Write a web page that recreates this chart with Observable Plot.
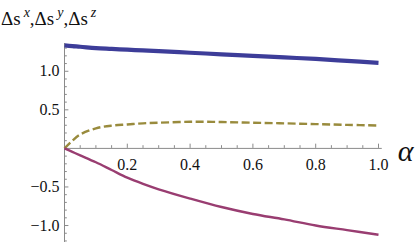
<!DOCTYPE html>
<html>
<head>
<meta charset="utf-8">
<script src="https://cdn.jsdelivr.net/npm/d3@7"></script>
<script src="https://cdn.jsdelivr.net/npm/@observablehq/plot@0.6"></script>
<style>
  html, body { margin: 0; padding: 0; background: #fff; }
  svg { display: block; }
  svg text, svg tspan { font-family: "Liberation Serif", "Times New Roman", serif; }
</style>
</head>
<body>
<div id="chart"></div>
<script>
const alpha = [0, 0.025, 0.05, 0.1, 0.15, 0.2, 0.25, 0.3, 0.4, 0.5, 0.6, 0.7, 0.8, 0.9, 1.0];
const dsX = [1.335, 1.325, 1.318, 1.30, 1.29, 1.28, 1.27, 1.26, 1.24, 1.22, 1.20, 1.18, 1.16, 1.135, 1.11];
const dsY = [0, 0.10, 0.18, 0.26, 0.295, 0.31, 0.325, 0.333, 0.345, 0.342, 0.333, 0.325, 0.315, 0.305, 0.297];
const dsZ = [0, -0.045, -0.09, -0.18, -0.28, -0.38, -0.46, -0.53, -0.65, -0.76, -0.85, -0.92, -1.0, -1.06, -1.12];

const xTicks = [0.2, 0.4, 0.6, 0.8, 1.0];
const xTickLabels = ["0.2", "0.4", "0.6", "0.8", "1.0"];
const yTicks = [-1.0, -0.5, 0.5, 1.0];
const yTickLabels = ["\u22121.0", "\u22120.5", "0.5", "1.0"];
const xMinor = d3.range(0, 21).map(i => i * 0.05);
const yMinor = d3.range(-12, 14).map(i => i * 0.1);
const axisNames = ["x", "y", "z"];
const xAxisLabel = "\u03B1";

const series = [
  {name: "x", values: dsX, color: "#3d3d99", width: 4.2, dash: null},
  {name: "y", values: dsY, color: "#998b3d", width: 2.4, dash: "8,3.5"},
  {name: "z", values: dsZ, color: "#993d71", width: 2.4, dash: null}
];
const rows = series.flatMap(s => alpha.map((a, i) => ({a, v: s.values[i], s: s.name})));

const serif = "Liberation Serif, Times New Roman, serif";
const axisColor = "#8a8a8a";

const marks = [
  Plot.ruleX([0], {y1: -1.22, y2: 1.36, stroke: axisColor, strokeWidth: 1}),
  Plot.ruleY([0], {x1: 0, x2: 1.012, stroke: axisColor, strokeWidth: 1}),
  Plot.ruleX(xMinor.filter(v => v > 0.001), {x: d => d, y1: 0, y2: d => (Math.abs(d / 0.2 - Math.round(d / 0.2)) < 1e-6 ? 0.055 : 0.035), stroke: axisColor}),
  Plot.ruleY(yMinor.filter(v => Math.abs(v) > 0.001), {y: d => d, x1: 0, x2: d => (Math.abs(d / 0.5 - Math.round(d / 0.5)) < 1e-6 ? 0.014 : 0.009), stroke: axisColor}),
  Plot.text(xTicks, {x: d => d, y: 0, text: (d, i) => xTickLabels[i], dy: 16, fontSize: 16, fontFamily: serif, fill: "#111"}),
  Plot.text(yTicks, {x: 0, y: d => d, text: (d, i) => yTickLabels[i], dx: -5, textAnchor: "end", fontSize: 16, fontFamily: serif, fill: "#111"}),
];
for (const s of series) {
  marks.push(Plot.line(rows.filter(r => r.s === s.name), {
    x: "a", y: "v", stroke: s.color, strokeWidth: s.width,
    strokeDasharray: s.dash, curve: "catmull-rom", strokeLinecap: "butt"
  }));
}
marks.push(Plot.text([xAxisLabel], {x: 1.0, y: 0, dx: 27, dy: 3, fontSize: 30, fontStyle: "italic", fontFamily: serif, fill: "#111"}));

const chart = Plot.plot({
  width: 415,
  height: 242,
  marginTop: 43,
  marginBottom: 0,
  marginLeft: 64,
  marginRight: 37,
  x: {domain: [0, 1], axis: null},
  y: {domain: [-1.22, 1.36], axis: null},
  style: {background: "#fff", overflow: "visible"},
  marks
});

const svg = d3.select(chart);
const t = svg.append("text")
  .attr("x", 1).attr("y", 25)
  .attr("text-anchor", "start")
  .attr("font-family", serif).attr("font-size", 19).attr("fill", "#111");
axisNames.forEach((p, i) => {
  t.append("tspan").attr("dy", i === 0 ? 0 : 8).text((i === 0 ? "" : ",") + "\u0394s");
  t.append("tspan").attr("dx", 3).attr("dy", -8).attr("font-size", 14).attr("font-style", "italic").text(p);
});

document.getElementById("chart").appendChild(chart);
</script>
</body>
</html>
